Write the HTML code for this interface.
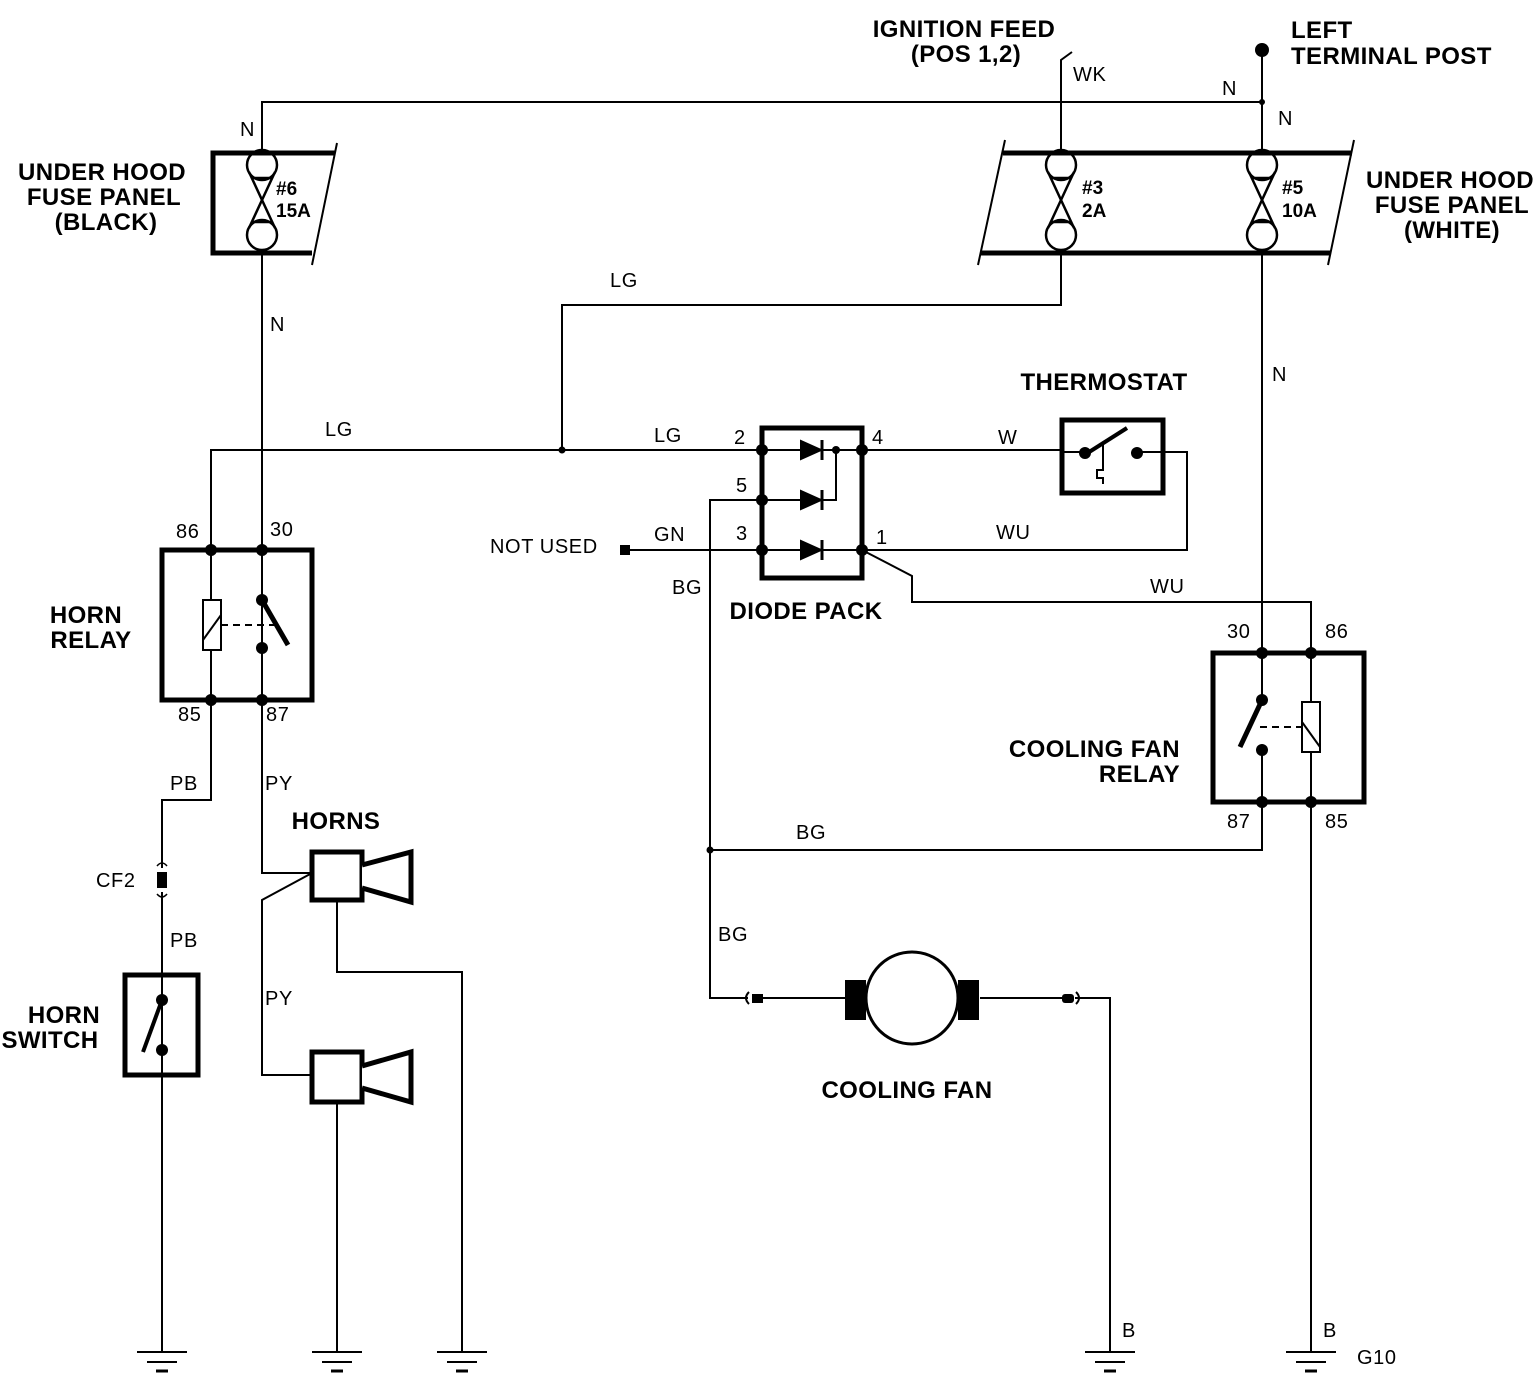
<!DOCTYPE html>
<html><head><style>body{margin:0;background:#fff}svg{display:block}
.b{font:bold 24px "Liberation Sans",sans-serif;letter-spacing:0.4px}
.t{font:20px "Liberation Sans",sans-serif;letter-spacing:0.6px}
.f{font:bold 19px "Liberation Sans",sans-serif}</style></head><body>
<svg width="1536" height="1376" viewBox="0 0 1536 1376" xmlns="http://www.w3.org/2000/svg">
<defs>
<g id="gnd"><line x1="-25" y1="0" x2="25" y2="0" stroke="#000" stroke-width="2"/><line x1="-15" y1="10" x2="15" y2="10" stroke="#000" stroke-width="2"/><line x1="-6" y1="19" x2="6" y2="19" stroke="#000" stroke-width="3"/></g>
<g id="fuse" fill="none" stroke="#000" stroke-width="2.5"><circle cx="0" cy="-35" r="15"/><circle cx="0" cy="35" r="15"/><path d="M-13 -28 L13 28 M13 -28 L-13 28 M-11 -22 H11 M-11 22 H11"/></g>
</defs>
<g stroke="#000" stroke-width="2" fill="none">
<path d="M262 153 V102 H1262"/>
<path d="M1262 50 V153"/>
<path d="M1061 153 V60 L1072 52"/>
<path d="M262 253 V700"/>
<path d="M211 550 V450 H762"/>
<path d="M562 450 V305 H1061 V253"/>
<path d="M1262 253 V653"/>
<path d="M862 450 H1062"/>
<path d="M1163 452 H1187 V550 H862"/>
<path d="M862 550 L912 576 V602 H1311 V653"/>
<path d="M762 500 H710 V998 H748"/>
<path d="M625 550 H762"/>
<path d="M836 450 V500 H820"/>
<path d="M710 850 H1262 V802"/>
<path d="M1311 802 V1352"/>
<path d="M760 998 H845 M980 998 H1062 M1075 998 H1110 V1352"/>
<path d="M262 700 V873 H312"/>
<path d="M312 873 L262 900 V1075 H312"/>
<path d="M337 900 V972 H462 V1352"/>
<path d="M337 1102 V1352"/>
<path d="M211 700 V800 H162 V868 M162 892 V1352"/>
<path d="M211 550 V700 M262 550 V598 M262 650 V700"/>
<path d="M1262 653 V698 M1262 750 V802 M1311 653 V802"/>
</g>
<g stroke="#000" stroke-width="5" fill="none">
<path d="M335 153 H213 V253 H312"/>
<path d="M1003 153 H1352 M980 253 H1330"/>
</g>
<g stroke="#000" stroke-width="2" fill="none">
<path d="M337 143 L312 265 M1005 140 L978 265 M1354 140 L1328 265"/>
</g>
<g fill="#fff"><use href="#fuse" x="262" y="200"/><use href="#fuse" x="1061" y="200"/><use href="#fuse" x="1262" y="200"/></g>
<circle cx="1262" cy="50" r="7" fill="#000"/>
<circle cx="1262" cy="102" r="3" fill="#000"/>
<circle cx="562" cy="450" r="3.5" fill="#000"/>
<circle cx="710" cy="850" r="3.5" fill="#000"/>
<rect x="162" y="550" width="150" height="150" fill="none" stroke="#000" stroke-width="5"/>
<rect x="203" y="600" width="18" height="50" fill="#fff" stroke="#000" stroke-width="2"/>
<path d="M203 640 L221 615" stroke="#000" stroke-width="2"/>
<path d="M221 625 H275" stroke="#000" stroke-width="2" stroke-dasharray="7,5"/>
<path d="M262 600 L288 645" stroke="#000" stroke-width="5"/>
<g fill="#000"><circle cx="211" cy="550" r="6"/><circle cx="262" cy="550" r="6"/><circle cx="211" cy="700" r="6"/><circle cx="262" cy="700" r="6"/><circle cx="262" cy="600" r="6"/><circle cx="262" cy="648" r="6"/></g>
<rect x="1213" y="653" width="151" height="149" fill="none" stroke="#000" stroke-width="5"/>
<rect x="1302" y="702" width="18" height="50" fill="#fff" stroke="#000" stroke-width="2"/>
<path d="M1302 722 L1320 747" stroke="#000" stroke-width="2"/>
<path d="M1260 727 H1302" stroke="#000" stroke-width="2" stroke-dasharray="7,5"/>
<path d="M1262 700 L1240 747" stroke="#000" stroke-width="5"/>
<g fill="#000"><circle cx="1262" cy="653" r="6"/><circle cx="1311" cy="653" r="6"/><circle cx="1262" cy="802" r="6"/><circle cx="1311" cy="802" r="6"/><circle cx="1262" cy="700" r="6"/><circle cx="1262" cy="750" r="6"/></g>
<rect x="762" y="428" width="100" height="150" fill="none" stroke="#000" stroke-width="5"/>
<g stroke="#000" stroke-width="2"><path d="M762 450 H862 M762 550 H862"/></g>
<g fill="#000" stroke="#000" stroke-width="2">
<path d="M801 441 L821 450 L801 459 Z"/><path d="M822 440 V460" stroke-width="3"/>
<path d="M801 491 L821 500 L801 509 Z"/><path d="M822 490 V510" stroke-width="3"/>
<path d="M762 500 H802" fill="none"/>
<path d="M801 541 L821 550 L801 559 Z"/><path d="M822 540 V560" stroke-width="3"/>
</g>
<g fill="#000"><circle cx="762" cy="450" r="6"/><circle cx="762" cy="500" r="6"/><circle cx="762" cy="550" r="6"/><circle cx="862" cy="450" r="6"/><circle cx="862" cy="550" r="6"/><circle cx="836" cy="450" r="4"/></g>
<rect x="620" y="545" width="10" height="10" fill="#000"/>
<rect x="1062" y="420" width="101" height="73" fill="#fff" stroke="#000" stroke-width="5"/>
<path d="M1062 452 H1085 M1140 452 H1163" stroke="#000" stroke-width="2"/>
<path d="M1086 454 L1127 428" stroke="#000" stroke-width="4"/>
<path d="M1103 443 V470 H1097 V478 H1103 V484" stroke="#000" stroke-width="2" fill="none"/>
<circle cx="1085" cy="453" r="6"/><circle cx="1137" cy="453" r="6"/>
<rect x="845" y="980" width="21" height="40" fill="#000"/>
<rect x="958" y="980" width="21" height="40" fill="#000"/>
<circle cx="912" cy="998" r="46" fill="#fff" stroke="#000" stroke-width="3"/>
<rect x="752" y="994" width="11" height="9" fill="#000"/>
<path d="M749 992 Q743 998 749 1004" stroke="#000" stroke-width="2" fill="none"/>
<rect x="1062" y="994" width="12" height="9" rx="3" fill="#000"/>
<path d="M1076 992 Q1082 998 1076 1004" stroke="#000" stroke-width="2" fill="none"/>
<g stroke="#000" stroke-width="5" fill="#fff">
<rect x="312" y="852" width="50" height="48"/>
<path d="M362 865 L411 852 V902 L362 888"/>
<rect x="312" y="1052" width="50" height="50"/>
<path d="M362 1066 L411 1052 V1102 L362 1088"/>
</g>
<rect x="157" y="872" width="10" height="16" fill="#000"/>
<path d="M157 866 Q162 860 167 866 M157 894 Q162 900 167 894" stroke="#000" stroke-width="1.5" fill="none"/>
<rect x="125" y="975" width="73" height="100" fill="none" stroke="#000" stroke-width="5"/>
<path d="M162 1000 L143 1052" stroke="#000" stroke-width="4"/>
<circle cx="162" cy="1000" r="6"/><circle cx="162" cy="1050" r="6"/>
<use href="#gnd" x="162" y="1352"/><use href="#gnd" x="337" y="1352"/><use href="#gnd" x="462" y="1352"/><use href="#gnd" x="1110" y="1352"/><use href="#gnd" x="1311" y="1352"/>
<g class="b">
<text x="964" y="37" text-anchor="middle">IGNITION FEED</text>
<text x="966" y="62" text-anchor="middle">(POS 1,2)</text>
<text x="1291" y="38">LEFT</text>
<text x="1291" y="64">TERMINAL POST</text>
<text x="102" y="180" text-anchor="middle">UNDER HOOD</text>
<text x="104" y="205" text-anchor="middle">FUSE PANEL</text>
<text x="106" y="230" text-anchor="middle">(BLACK)</text>
<text x="1450" y="188" text-anchor="middle">UNDER HOOD</text>
<text x="1452" y="213" text-anchor="middle">FUSE PANEL</text>
<text x="1452" y="238" text-anchor="middle">(WHITE)</text>
<text x="1104" y="390" text-anchor="middle">THERMOSTAT</text>
<text x="806" y="619" text-anchor="middle">DIODE PACK</text>
<text x="86" y="623" text-anchor="middle">HORN</text>
<text x="91" y="648" text-anchor="middle">RELAY</text>
<text x="1180" y="757" text-anchor="end">COOLING FAN</text>
<text x="1180" y="782" text-anchor="end">RELAY</text>
<text x="336" y="829" text-anchor="middle">HORNS</text>
<text x="64" y="1023" text-anchor="middle">HORN</text>
<text x="50" y="1048" text-anchor="middle">SWITCH</text>
<text x="907" y="1098" text-anchor="middle">COOLING FAN</text>
</g>
<g class="f">
<text x="276" y="195">#6</text><text x="276" y="217">15A</text>
<text x="1082" y="194">#3</text><text x="1082" y="217">2A</text>
<text x="1282" y="194">#5</text><text x="1282" y="217">10A</text>
</g>
<g class="t">
<text x="1073" y="81">WK</text>
<text x="1222" y="95">N</text><text x="1278" y="125">N</text><text x="240" y="136">N</text>
<text x="270" y="331">N</text><text x="1272" y="381">N</text>
<text x="610" y="287">LG</text><text x="325" y="436">LG</text><text x="654" y="442">LG</text>
<text x="734" y="444">2</text><text x="872" y="444">4</text><text x="736" y="492">5</text><text x="736" y="540">3</text><text x="876" y="544">1</text>
<text x="998" y="444">W</text><text x="996" y="539">WU</text><text x="1150" y="593">WU</text>
<text x="490" y="553">NOT USED</text><text x="654" y="541">GN</text><text x="672" y="594">BG</text>
<text x="176" y="538">86</text><text x="270" y="536">30</text><text x="178" y="721">85</text><text x="266" y="721">87</text>
<text x="1227" y="638">30</text><text x="1325" y="638">86</text><text x="1227" y="828">87</text><text x="1325" y="828">85</text>
<text x="170" y="790">PB</text><text x="265" y="790">PY</text><text x="96" y="887">CF2</text><text x="170" y="947">PB</text>
<text x="265" y="1005">PY</text><text x="796" y="839">BG</text><text x="718" y="941">BG</text>
<text x="1122" y="1337">B</text><text x="1323" y="1337">B</text><text x="1357" y="1364">G10</text>
</g>
</svg>
</body></html>
